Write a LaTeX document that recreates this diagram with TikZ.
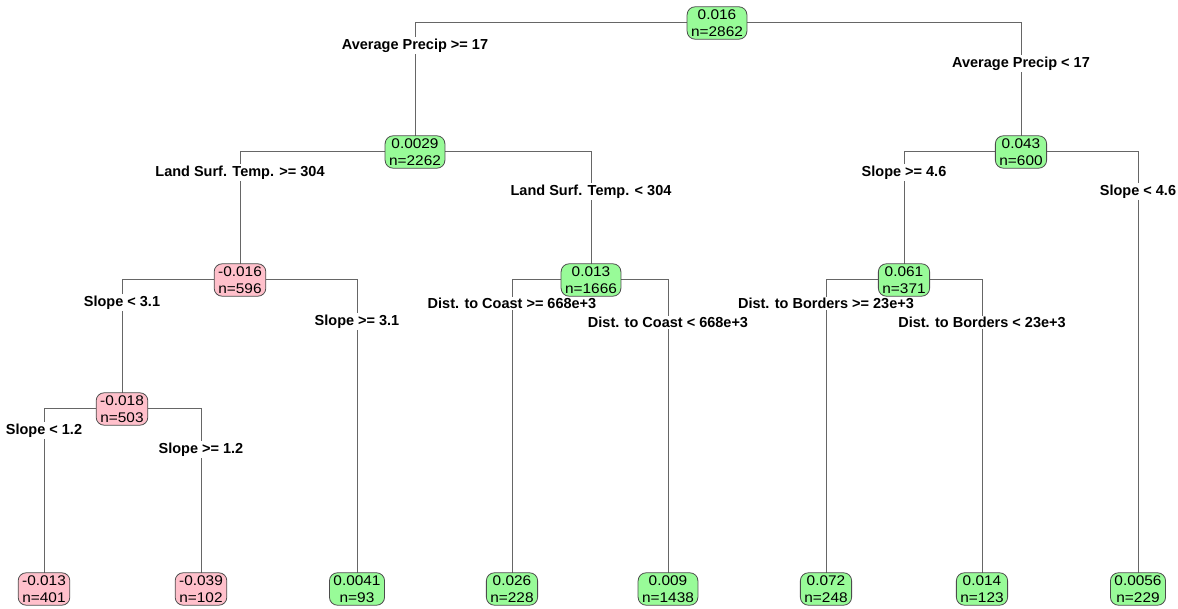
\documentclass[tikz,border=0pt]{standalone}
\usepackage{fontspec}
\setmainfont{Liberation Sans}
\newfontfamily\boxfont{Liberation Sans}[FakeStretch=1.1]
\begin{document}
\begin{tikzpicture}[x=1pt,y=-1pt,
  tn/.style={draw=black!70, line width=0.8pt, rounded corners=8pt, align=center,
     font=\boxfont\fontsize{14}{16.5}\selectfont, inner xsep=4pt, inner ysep=3pt, minimum width=50pt},
  posbox/.style={tn, fill={rgb,255:red,152;green,251;blue,152}},
  negbox/.style={tn, fill={rgb,255:red,255;green,192;blue,203}},
  lbl/.style={fill=white, inner sep=1.5pt, yshift=-1.5pt, font=\fontsize{14.5}{16}\selectfont\bfseries},
  edge/.style={draw=black!60, line width=1pt}]
\useasboundingbox (0,0) rectangle (1178,609);
% coordinates
\coordinate (p0) at (717,23);
\coordinate (p1) at (415,152);
\coordinate (p2) at (1021,152);
\coordinate (p3) at (240,280);
\coordinate (p4) at (591,280);
\coordinate (p5) at (904,280);
\coordinate (p6) at (122,409);
\coordinate (q1) at (44,589);
\coordinate (q2) at (201,589);
\coordinate (q3) at (357,589);
\coordinate (q4) at (512,589);
\coordinate (q5) at (668,589);
\coordinate (q6) at (826,589);
\coordinate (q7) at (982,589);
\coordinate (q8) at (1138,589);
% edges
\draw[edge] (p0) -| (p1);
\draw[edge] (p0) -| (p2);
\draw[edge] (p1) -| (p3);
\draw[edge] (p1) -| (p4);
\draw[edge] (p2) -| (p5);
\draw[edge] (p2) -| (q8);
\draw[edge] (p3) -| (p6);
\draw[edge] (p3) -| (q3);
\draw[edge] (p4) -| (q4);
\draw[edge] (p4) -| (q5);
\draw[edge] (p5) -| (q6);
\draw[edge] (p5) -| (q7);
\draw[edge] (p6) -| (q1);
\draw[edge] (p6) -| (q2);
% labels
\node[lbl] (l1) at (415,44) {Average Precip >= 17};
\node[lbl] (l2) at (1021,62) {Average Precip < 17};
\node[lbl] (l3) at (240,171) {Land Surf. Temp. >= 304};
\node[lbl] (l4) at (591,190) {Land Surf. Temp. < 304};
\node[lbl] (l5) at (904,171) {Slope >= 4.6};
\node[lbl] (l6) at (1138,190) {Slope < 4.6};
\node[lbl] (l7) at (122,301) {Slope < 3.1};
\node[lbl] (l8) at (357,320) {Slope >= 3.1};
\node[lbl] (l9) at (512,302) {Dist. to Coast >= 668e+3};
\node[lbl] (l10) at (668,321) {Dist. to Coast < 668e+3};
\node[lbl] (l11) at (826,302) {Dist. to Borders >= 23e+3};
\node[lbl] (l12) at (982,321) {Dist. to Borders < 23e+3};
\node[lbl] (l13) at (44,429) {Slope < 1.2};
\node[lbl] (l14) at (201,448) {Slope >= 1.2};
% nodes
\node[posbox] (n0) at (p0) {0.016\\n=2862};
\node[posbox] (n1) at (p1) {0.0029\\n=2262};
\node[posbox] (n2) at (p2) {0.043\\n=600};
\node[negbox] (n3) at (p3) {-0.016\\n=596};
\node[posbox] (n4) at (p4) {0.013\\n=1666};
\node[posbox] (n5) at (p5) {0.061\\n=371};
\node[negbox] (n6) at (p6) {-0.018\\n=503};
\node[negbox] (f1) at (q1) {-0.013\\n=401};
\node[negbox] (f2) at (q2) {-0.039\\n=102};
\node[posbox] (f3) at (q3) {0.0041\\n=93};
\node[posbox] (f4) at (q4) {0.026\\n=228};
\node[posbox] (f5) at (q5) {0.009\\n=1438};
\node[posbox] (f6) at (q6) {0.072\\n=248};
\node[posbox] (f7) at (q7) {0.014\\n=123};
\node[posbox] (f8) at (q8) {0.0056\\n=229};
\end{tikzpicture}
\end{document}
